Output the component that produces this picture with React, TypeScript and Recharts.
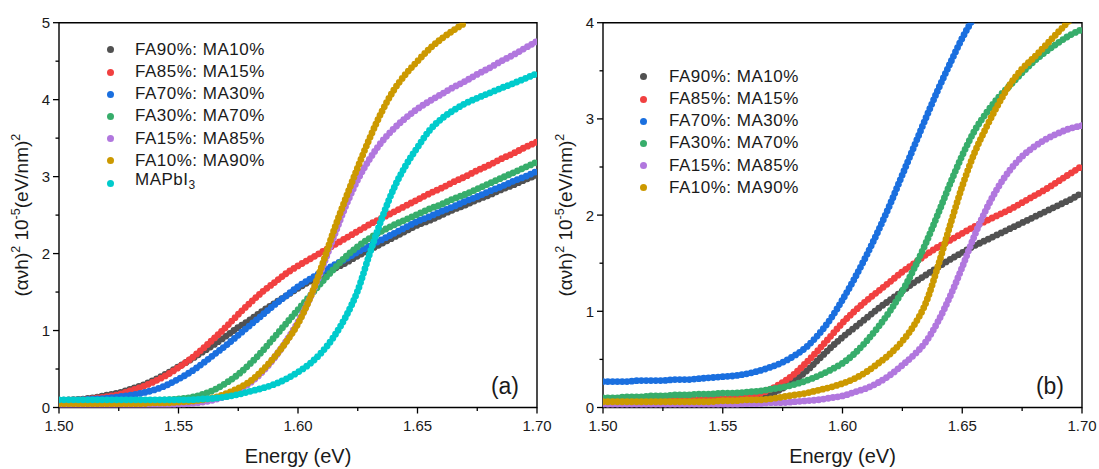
import React from 'react';
import { LineChart, Line, XAxis, YAxis, ReferenceArea, Label, Legend } from 'recharts';

const FONT = '"Liberation Sans", Arial, Helvetica, sans-serif';

// Photon energy grid (eV)
const energy = [
  1.5, 1.505, 1.51, 1.515, 1.52, 1.525, 1.53, 1.535, 1.54, 1.545, 1.55, 1.555, 1.56, 1.565,
  1.57, 1.575, 1.58, 1.585, 1.59, 1.595, 1.6, 1.605, 1.61, 1.615, 1.62, 1.625, 1.63, 1.635,
  1.64, 1.645, 1.65, 1.655, 1.66, 1.665, 1.67, 1.675, 1.68, 1.685, 1.69, 1.695, 1.7,
];

// Panel (a): (alpha*h*nu)^2 in units of 1e5 (eV/nm)^2
const aFA90 = [0.09,0.10,0.11,0.13,0.16,0.19,0.24,0.29,0.36,0.44,0.53,0.62,0.72,0.82,0.93,1.04,1.14,1.25,1.35,1.45,1.55,1.64,1.72,1.80,1.88,1.97,2.05,2.13,2.21,2.29,2.37,2.43,2.50,2.57,2.63,2.70,2.76,2.83,2.89,2.96,3.02];
const aFA85 = [0.08,0.09,0.10,0.12,0.14,0.17,0.22,0.27,0.34,0.42,0.52,0.63,0.76,0.90,1.05,1.21,1.36,1.50,1.62,1.74,1.84,1.93,2.02,2.11,2.20,2.29,2.38,2.46,2.54,2.62,2.70,2.78,2.85,2.93,3.00,3.08,3.15,3.23,3.30,3.38,3.45];
const aFA70 = [0.09,0.09,0.10,0.11,0.12,0.14,0.16,0.19,0.23,0.29,0.37,0.46,0.57,0.69,0.81,0.94,1.07,1.20,1.33,1.45,1.57,1.67,1.76,1.85,1.93,2.02,2.10,2.18,2.26,2.34,2.42,2.48,2.55,2.61,2.68,2.74,2.81,2.87,2.94,3.00,3.07];
const aFA30 = [0.07,0.07,0.07,0.07,0.08,0.08,0.08,0.08,0.09,0.10,0.11,0.13,0.17,0.23,0.32,0.43,0.57,0.73,0.91,1.09,1.27,1.45,1.63,1.80,1.96,2.09,2.20,2.29,2.37,2.44,2.51,2.58,2.64,2.71,2.77,2.84,2.91,2.98,3.05,3.12,3.19];
const aFA15 = [0.02,0.02,0.02,0.02,0.02,0.02,0.02,0.03,0.03,0.03,0.04,0.05,0.07,0.10,0.15,0.22,0.32,0.46,0.64,0.86,1.11,1.42,1.80,2.22,2.62,2.96,3.23,3.45,3.62,3.76,3.88,3.98,4.07,4.16,4.24,4.33,4.41,4.50,4.58,4.67,4.76];
const aFA10 = [0.05,0.05,0.05,0.05,0.05,0.05,0.05,0.05,0.06,0.06,0.07,0.08,0.10,0.13,0.18,0.25,0.34,0.48,0.65,0.85,1.09,1.42,1.84,2.30,2.72,3.12,3.50,3.84,4.12,4.33,4.50,4.66,4.79,4.90,5.00,null,null,null,null,null,null];
const aMAPbI3 = [0.10,0.10,0.10,0.10,0.10,0.10,0.10,0.10,0.10,0.10,0.10,0.10,0.11,0.12,0.14,0.17,0.21,0.25,0.30,0.37,0.46,0.57,0.72,0.92,1.18,1.52,2.00,2.45,2.84,3.14,3.38,3.60,3.75,3.86,3.95,4.02,4.085,4.15,4.21,4.275,4.34];

// Panel (b)
const bFA90 = [0.05,0.05,0.05,0.05,0.05,0.05,0.05,0.05,0.06,0.06,0.06,0.07,0.08,0.10,0.14,0.20,0.28,0.38,0.50,0.62,0.73,0.83,0.93,1.03,1.12,1.21,1.30,1.38,1.46,1.54,1.61,1.68,1.74,1.80,1.86,1.92,1.98,2.04,2.10,2.16,2.23];
const bFA85 = [0.07,0.07,0.07,0.07,0.07,0.07,0.08,0.08,0.08,0.09,0.09,0.10,0.11,0.14,0.19,0.26,0.35,0.47,0.60,0.74,0.88,1.00,1.11,1.21,1.31,1.41,1.50,1.59,1.67,1.74,1.81,1.88,1.94,2.00,2.06,2.13,2.20,2.27,2.35,2.43,2.51];
const bFA70 = [0.27,0.27,0.27,0.28,0.28,0.28,0.29,0.29,0.30,0.31,0.32,0.33,0.35,0.38,0.42,0.47,0.54,0.63,0.76,0.92,1.12,1.34,1.58,1.84,2.12,2.42,2.72,3.02,3.31,3.58,3.84,4.06,null,null,null,null,null,null,null,null,null];
const bFA30 = [0.10,0.10,0.11,0.11,0.12,0.12,0.13,0.13,0.14,0.14,0.15,0.15,0.16,0.17,0.19,0.21,0.24,0.28,0.33,0.39,0.46,0.56,0.69,0.84,1.01,1.21,1.45,1.72,2.02,2.33,2.62,2.87,3.06,3.22,3.35,3.48,3.60,3.70,3.79,3.87,3.93];
const bFA15 = [0.03,0.03,0.03,0.03,0.03,0.03,0.03,0.03,0.03,0.03,0.03,0.03,0.04,0.04,0.05,0.05,0.06,0.07,0.08,0.10,0.12,0.16,0.20,0.26,0.34,0.44,0.55,0.69,0.90,1.16,1.46,1.78,2.06,2.29,2.47,2.61,2.71,2.79,2.85,2.90,2.93];
const bFA10 = [0.06,0.06,0.06,0.06,0.06,0.06,0.06,0.06,0.06,0.06,0.07,0.07,0.08,0.08,0.09,0.11,0.13,0.15,0.18,0.21,0.25,0.30,0.37,0.46,0.56,0.69,0.86,1.10,1.48,1.90,2.30,2.64,2.91,3.15,3.36,3.52,3.64,3.77,3.90,4.03,null];

// Axis ticks
const xTicks = [1.5, 1.525, 1.55, 1.575, 1.6, 1.625, 1.65, 1.675, 1.7];
const xMajor = [1.5, 1.55, 1.6, 1.65, 1.7];
const yTicksA = [0, 0.5, 1, 1.5, 2, 2.5, 3, 3.5, 4, 4.5, 5];
const yTicksB = [0, 0.5, 1, 1.5, 2, 2.5, 3, 3.5, 4];
const yMajorA = [0, 1, 2, 3, 4, 5];
const yMajorB = [0, 1, 2, 3, 4];

const COLORS = {
  gray: '#515151',
  red: '#F14040',
  blue: '#1A6FDF',
  green: '#37AD6B',
  purple: '#B177DE',
  gold: '#CC9900',
  cyan: '#00CBCC',
};

type Series = { key: string; label: React.ReactNode; color: string; values: (number | null)[] };

const seriesA: Series[] = [
  { key: 'fa90', label: 'FA90%: MA10%', color: COLORS.gray, values: aFA90 },
  { key: 'fa85', label: 'FA85%: MA15%', color: COLORS.red, values: aFA85 },
  { key: 'fa70', label: 'FA70%: MA30%', color: COLORS.blue, values: aFA70 },
  { key: 'fa30', label: 'FA30%: MA70%', color: COLORS.green, values: aFA30 },
  { key: 'fa15', label: 'FA15%: MA85%', color: COLORS.purple, values: aFA15 },
  { key: 'fa10', label: 'FA10%: MA90%', color: COLORS.gold, values: aFA10 },
  { key: 'mapbi3', label: <>MAPbI<sub style={{ fontSize: 12 }}>3</sub></>, color: COLORS.cyan, values: aMAPbI3 },
];

const seriesB: Series[] = [
  { key: 'fa90', label: 'FA90%: MA10%', color: COLORS.gray, values: bFA90 },
  { key: 'fa85', label: 'FA85%: MA15%', color: COLORS.red, values: bFA85 },
  { key: 'fa70', label: 'FA70%: MA30%', color: COLORS.blue, values: bFA70 },
  { key: 'fa30', label: 'FA30%: MA70%', color: COLORS.green, values: bFA30 },
  { key: 'fa15', label: 'FA15%: MA85%', color: COLORS.purple, values: bFA15 },
  { key: 'fa10', label: 'FA10%: MA90%', color: COLORS.gold, values: bFA10 },
];

const buildRows = (series: Series[]) =>
  energy.map((e, i) => {
    const row: Record<string, number | null> = { e };
    series.forEach((s) => {
      row[s.key] = s.values[i];
    });
    return row;
  });

const TEXT = '#1a1a1a';

const makeXTick = () => (props: any) => {
  const { x, y, payload } = props;
  const major = xMajor.includes(payload.value);
  return (
    <g>
      <line x1={x} x2={x} y1={y} y2={y + (major ? 6 : 3.5)} stroke="#000" strokeWidth={1.3} />
      {major && (
        <text x={x} y={y + 23.5} textAnchor="middle" fontSize={15} fontFamily={FONT} fill={TEXT}>
          {payload.value.toFixed(2)}
        </text>
      )}
    </g>
  );
};

const makeYTick = (majors: number[]) => (props: any) => {
  const { x, y, payload } = props;
  const major = majors.includes(payload.value);
  return (
    <g>
      <line x1={x} x2={x - (major ? 6 : 3.5)} y1={y} y2={y} stroke="#000" strokeWidth={1.3} />
      {major && (
        <text x={x - 9} y={y + 5.4} textAnchor="end" fontSize={15} fontFamily={FONT} fill={TEXT}>
          {payload.value}
        </text>
      )}
    </g>
  );
};

const yTitle = (props: any) => {
  const vb = props.viewBox;
  const cx = vb.x + vb.width - 38;
  const cy = vb.y + vb.height / 2;
  const fs = 19;
  const sup = 12.5;
  return (
    <text
      x={cx}
      y={cy + 0.35 * fs}
      transform={`rotate(-90, ${cx}, ${cy})`}
      textAnchor="middle"
      fontSize={fs}
      fontFamily={FONT}
      fill={TEXT}
    >
      <tspan>(ανh)</tspan>
      <tspan fontSize={sup} dy={-7.5}>2</tspan>
      <tspan dy={7.5}> 10</tspan>
      <tspan fontSize={sup} dy={-7.5}>-5</tspan>
      <tspan dy={7.5}>(eV/nm)</tspan>
      <tspan fontSize={sup} dy={-7.5}>2</tspan>
    </text>
  );
};

const xTitle = (props: any) => {
  const vb = props.viewBox;
  return (
    <text x={vb.x + vb.width / 2} y={vb.y + 55} textAnchor="middle" fontSize={20} fontFamily={FONT} fill={TEXT}>
      Energy (eV)
    </text>
  );
};

const panelTag = (tag: string) => (props: any) => {
  const vb = props.viewBox;
  return (
    <text x={vb.x + vb.width - 18} y={vb.y + vb.height - 14} textAnchor="end" fontSize={23} fontFamily={FONT} fill={TEXT}>
      {tag}
    </text>
  );
};

const makeLegend = (series: Series[], gap: number) => () => (
  <div style={{ fontFamily: FONT, fontSize: 17, letterSpacing: 0.5, color: TEXT, lineHeight: '22.2px' }}>
    {series.map((s) => (
      <div key={s.key} style={{ height: 22.2, display: 'flex', alignItems: 'center', whiteSpace: 'nowrap' }}>
        <span
          style={{
            display: 'inline-block',
            width: 7,
            height: 7,
            borderRadius: '50%',
            background: s.color,
            marginRight: gap,
            flex: 'none',
          }}
        />
        <span>{s.label}</span>
      </div>
    ))}
  </div>
);

type PanelProps = {
  series: Series[];
  width: number;
  marginRight: number;
  yMax: number;
  yTicks: number[];
  yMajor: number[];
  tag: string;
  legendLeft: number;
  legendTop: number;
  legendGap: number;
};

const Panel = ({ series, width, marginRight, yMax, yTicks, yMajor, tag, legendLeft, legendTop, legendGap }: PanelProps) => {
  const rows = buildRows(series);
  return (
    <LineChart
      width={width}
      height={469}
      data={rows}
      margin={{ top: 22.7, right: marginRight, left: 19, bottom: 31.5 }}
    >
      <XAxis
        dataKey="e"
        type="number"
        domain={[1.5, 1.7]}
        ticks={xTicks}
        interval={0}
        allowDataOverflow
        axisLine={false}
        tickLine={false}
        tickSize={0}
        tickMargin={0}
        height={30}
        tick={makeXTick()}
      >
        <Label content={xTitle} />
      </XAxis>
      <YAxis
        type="number"
        domain={[0, yMax]}
        ticks={yTicks}
        interval={0}
        allowDataOverflow
        axisLine={false}
        tickLine={false}
        tickSize={0}
        tickMargin={0}
        width={40}
        tick={makeYTick(yMajor)}
      >
        <Label content={yTitle} />
      </YAxis>
      <ReferenceArea
        x1={1.5}
        x2={1.7}
        y1={0}
        y2={yMax}
        fill="none"
        fillOpacity={0}
        stroke="#000"
        strokeWidth={1.4}
        ifOverflow="visible"
      >
        <Label content={panelTag(tag)} />
      </ReferenceArea>
      <Legend
        layout="vertical"
        align="center"
        verticalAlign="middle"
        content={makeLegend(series, legendGap)}
        wrapperStyle={{ left: legendLeft, top: legendTop, bottom: 'auto', width: 'auto', height: 'auto' }}
      />
      {series.map((s) => (
        <Line
          key={s.key}
          dataKey={s.key}
          name={s.key}
          type="monotone"
          stroke={s.color}
          strokeWidth={6.8}
          strokeLinecap="round"
          strokeLinejoin="round"
          strokeDasharray="0 4.8"
          dot={false}
          activeDot={false}
          isAnimationActive={false}
          connectNulls={false}
        />
      ))}
    </LineChart>
  );
};

export default function App() {
  return (
    <div style={{ position: 'absolute', left: 0, top: 0, width: 1099, height: 469, background: '#fff', fontFamily: FONT }}>
      <div style={{ position: 'absolute', left: 0, top: 0 }}>
        <Panel
          series={seriesA}
          width={562}
          marginRight={25}
          yMax={5}
          yTicks={yTicksA}
          yMajor={yMajorA}
          tag="(a)"
          legendLeft={106.5}
          legendTop={38.9}
          legendGap={21.5}
        />
      </div>
      <div style={{ position: 'absolute', left: 544, top: 0 }}>
        <Panel
          series={seriesB}
          width={555}
          marginRight={17}
          yMax={4}
          yTicks={yTicksB}
          yMajor={yMajorB}
          tag="(b)"
          legendLeft={95.5}
          legendTop={65.9}
          legendGap={22.5}
        />
      </div>
    </div>
  );
}
